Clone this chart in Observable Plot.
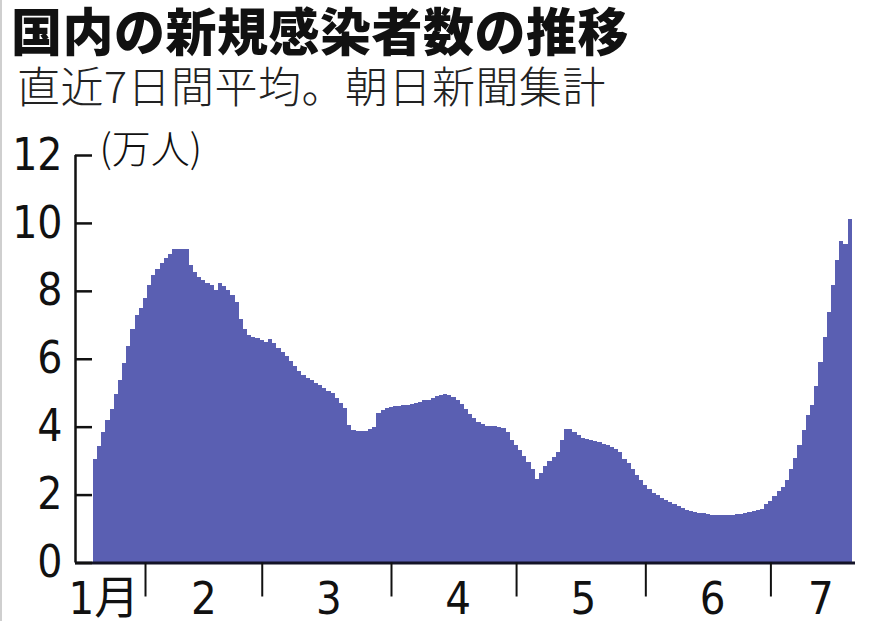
<!DOCTYPE html>
<html lang="ja">
<head>
<meta charset="utf-8">
<script src="https://cdn.jsdelivr.net/npm/d3@7"></script>
<script src="https://cdn.jsdelivr.net/npm/@observablehq/plot@0.6"></script>
<style>
  body { margin: 0; background: #fff; width: 882px; height: 621px; overflow: hidden; position: relative; }
  #title { font-family: "Noto Sans CJK JP", sans-serif; font-weight: 900; font-size: 51px; line-height: 58px; height: 58px; margin-left: 11px; letter-spacing: 0.5px; color: #111; white-space: nowrap; }
  #subtitle { font-family: "Noto Sans CJK JP", sans-serif; font-weight: 300; font-size: 43px; line-height: 52px; height: 52px; margin-left: 17px; letter-spacing: 0.5px; color: #222; white-space: nowrap; }
  .edge { position: absolute; left: 0; top: 0; width: 2px; height: 621px; background: #cfcfcf; }
</style>
</head>
<body>
<div id="title">国内の新規感染者数の推移</div>
<div id="subtitle">直近7日間平均。朝日新聞集計</div>
<div id="chart"></div>
<div class="edge"></div>
<script>
// 7-day average of new cases, unit = 10,000 people (万人), one value per day from Jan 20
const firstDay = new Date("2022-01-20");
const jan = [3.04, 3.43, 3.85, 4.19, 4.53, 4.95, 5.36, 5.87, 6.37, 6.87, 7.29, 7.50];
const feb = [7.78, 8.17, 8.48, 8.64, 8.83, 8.97, 9.07, 9.22, 9.24, 9.24,
             9.24, 8.75, 8.54, 8.41, 8.31, 8.23, 8.17, 8.02, 8.22, 8.14,
             8.02, 7.87, 7.68, 7.16, 6.87, 6.70, 6.63, 6.60];
const mar = [6.55, 6.50, 6.57, 6.45, 6.33, 6.20, 6.08, 5.92, 5.80, 5.65,
             5.52, 5.42, 5.36, 5.28, 5.22, 5.15, 5.06, 4.98, 4.85, 4.70,
             4.55, 4.05, 3.91, 3.87, 3.86, 3.88, 3.92, 3.98, 4.40, 4.50, 4.55];
const apr = [4.58, 4.60, 4.62, 4.63, 4.65, 4.68, 4.70, 4.74, 4.78, 4.80,
             4.85, 4.90, 4.94, 4.95, 4.93, 4.88, 4.80, 4.68, 4.52, 4.38,
             4.25, 4.15, 4.08, 4.03, 4.03, 4.02, 3.98, 3.95, 3.85, 3.60];
const may = [3.45, 3.30, 3.15, 2.95, 2.75, 2.45, 2.65, 2.84, 3.00, 3.12,
             3.25, 3.62, 3.94, 3.94, 3.85, 3.75, 3.68, 3.64, 3.60, 3.57,
             3.54, 3.50, 3.45, 3.40, 3.33, 3.25, 3.06, 2.92, 2.76, 2.58, 2.42];
const jun = [2.28, 2.16, 2.06, 1.98, 1.90, 1.83, 1.77, 1.71, 1.65, 1.60,
             1.56, 1.53, 1.50, 1.47, 1.45, 1.43, 1.41, 1.40, 1.39, 1.39,
             1.40, 1.41, 1.42, 1.44, 1.46, 1.49, 1.52, 1.54, 1.57, 1.72];
const jul = [1.81, 1.96, 2.10, 2.23, 2.43, 2.76, 3.08, 3.47, 3.91, 4.35,
             4.65, 5.21, 5.90, 6.65, 7.37, 8.17, 8.90, 9.47, 9.37, 10.12];

const yTicks = [0, 2, 4, 6, 8, 10, 12];
const yUnit = "(万人)";
const monthStarts = ["2022-02-01", "2022-03-01", "2022-04-01", "2022-05-01", "2022-06-01", "2022-07-01"].map(s => new Date(s));
const monthLabels = ["1月", "2", "3", "4", "5", "6", "7"];
const monthLabelDays = ["2022-01-22", "2022-02-15", "2022-03-17", "2022-04-17", "2022-05-17", "2022-06-17", "2022-07-13"].map(s => new Date(s));
const xDomain = [new Date("2022-01-15T05:00Z"), new Date("2022-07-21T07:00Z")];

const values = [...jan, ...feb, ...mar, ...apr, ...may, ...jun, ...jul];
const rows = values.map((v, i) => ({date: d3.utcDay.offset(firstDay, i), value: v}));
const labels = monthLabels.map((t, i) => ({date: monthLabelDays[i], text: t}));

const digitFont = "'Liberation Sans Narrow', 'DejaVu Sans Condensed', 'Liberation Sans', 'Noto Sans CJK JP', sans-serif";

const chart = Plot.plot({
  width: 882,
  height: 511,
  marginTop: 45,
  marginBottom: 58.5,
  marginLeft: 75,
  marginRight: 27,
  style: {background: "white", color: "#111", fontFamily: digitFont},
  x: {type: "utc", domain: xDomain, label: null},
  y: {domain: [0, 12], label: null},
  marks: [
    Plot.rectY(rows, {
      x1: d => d3.utcHour.offset(d.date, -12),
      x2: d => d3.utcHour.offset(d.date, 12),
      y: "value",
      fill: "#5a5fb2",
      shapeRendering: "crispEdges"
    }),
    Plot.ruleX([xDomain[0]], {y1: 0, y2: 12, stroke: "#111", strokeWidth: 2.5}),
    Plot.ruleY([0], {stroke: "#141428", strokeWidth: 3}),
    Plot.axisY(yTicks, {anchor: "left", tickSize: -17, tickPadding: 30, strokeWidth: 2.5, fontSize: 44, label: null}),
    Plot.axisX(monthStarts, {anchor: "bottom", tickSize: 34, strokeWidth: 2, tickFormat: () => "", label: null}),
    Plot.text(labels, {x: "date", text: "text", frameAnchor: "bottom", dy: 37, lineAnchor: "middle", fontSize: 45, fill: "#111"}),
    Plot.text([yUnit], {frameAnchor: "top-left", dx: 24, dy: -5, textAnchor: "start", lineAnchor: "middle", fontSize: 39, fontFamily: "'Noto Sans CJK JP', sans-serif", fontWeight: 300, fill: "#111"})
  ]
});

document.getElementById("chart").appendChild(chart);
</script>
</body>
</html>
